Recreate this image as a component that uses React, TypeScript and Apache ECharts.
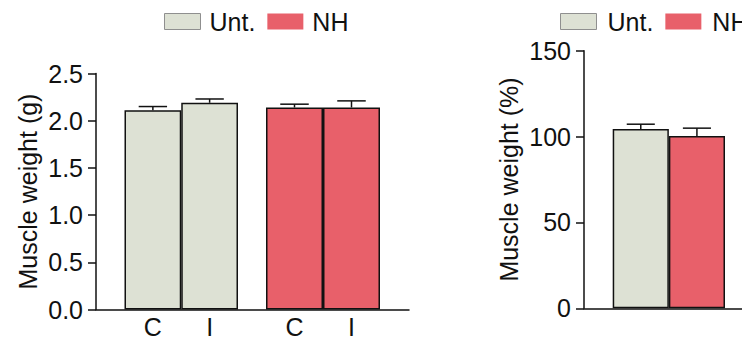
import React, { useEffect, useRef } from "react";
import * as echarts from "echarts";

// ---- data ----
const subCategories = ["C", "I"];
const weightUnt = [2.11, 2.19];
const weightUntErr = [0.04, 0.04];
const weightNH = [2.14, 2.14];
const weightNHErr = [0.035, 0.07];
const weightTickDecimals = 1;
const weightMax = 2.5;
const weightInterval = 0.5;

const percentCategory = [""];
const percentUnt = [104.4];
const percentUntErr = [2.8];
const percentNH = [100.3];
const percentNHErr = [4.6];
const percentMax = 150;
const percentInterval = 50;

const UNT_COLOR = "#dde1d4";
const NH_COLOR = "#e8606a";
const INK = "#111111";
const FONT = 'Arial, "Liberation Sans", sans-serif';

function errorData(values: number[], errs: number[]) {
  return values.map((v, i) => [i, v, errs[i]]);
}

function errorSeries(
  xi: number,
  values: number[],
  errs: number[],
  offsetFrac: number,
  capFrac: number
) {
  return {
    type: "custom",
    xAxisIndex: xi,
    yAxisIndex: xi,
    z: 5,
    silent: true,
    encode: { x: 0, y: 1 },
    data: errorData(values, errs),
    renderItem: (params: any, api: any) => {
      const x = api.value(0);
      const y = api.value(1);
      const e = api.value(2);
      const base = api.coord([x, y]);
      const top = api.coord([x, y + e]);
      const band = api.size([1, 0])[0];
      const cx = base[0] + offsetFrac * band;
      const half = (capFrac * band) / 2;
      const style = { stroke: INK, lineWidth: 1.5 };
      return {
        type: "group",
        children: [
          { type: "line", shape: { x1: cx, y1: base[1], x2: cx, y2: top[1] }, style },
          { type: "line", shape: { x1: cx - half, y1: top[1], x2: cx + half, y2: top[1] }, style },
        ],
      };
    },
  };
}

const axisLineStyle = { lineStyle: { color: INK, width: 1.5 } };

function frameX(grid: number) {
  return {
    type: "value",
    gridIndex: grid,
    min: 0,
    max: 1,
    axisLine: { show: true, onZero: false, ...axisLineStyle },
    axisTick: { show: false },
    axisLabel: { show: false },
    splitLine: { show: false },
  };
}

function frameY(grid: number, max: number, interval: number, name: string, nameGap: number, decimals: number) {
  return {
    type: "value",
    gridIndex: grid,
    min: 0,
    max,
    interval,
    name,
    nameLocation: "middle",
    nameGap,
    nameTextStyle: { fontSize: 25, color: INK, fontFamily: FONT },
    axisLine: { show: true, ...axisLineStyle },
    axisTick: { show: true, length: 8, lineStyle: { color: INK, width: 1.5 } },
    axisLabel: {
      fontSize: 25,
      color: INK,
      fontFamily: FONT,
      margin: 13,
      formatter: (v: number) => v.toFixed(decimals),
    },
    splitLine: { show: false },
  };
}

function hiddenY(grid: number, max: number) {
  return { type: "value", gridIndex: grid, min: 0, max, show: false };
}

function catX(grid: number, data: string[], showLabels: boolean) {
  return {
    type: "category",
    gridIndex: grid,
    data,
    axisLine: { show: false },
    axisTick: { show: false },
    axisLabel: { show: showLabels, fontSize: 25, color: INK, fontFamily: FONT, margin: 5 },
    splitLine: { show: false },
  };
}

const barStyle = (color: string) => ({ color, borderColor: INK, borderWidth: 1.5 });

function legend(left: number, textPad: number) {
  return {
    left,
    top: 9,
    width: 400,
    padding: 0,
    icon: "rect",
    itemWidth: 36,
    itemHeight: 16,
    itemGap: 12,
    textStyle: { fontSize: 25, color: INK, fontFamily: FONT, padding: [0, 0, 0, textPad] },
    data: [
      { name: "Unt.", itemStyle: { color: UNT_COLOR, borderColor: "#8f8f8f", borderWidth: 1 } },
      { name: "NH", itemStyle: { color: NH_COLOR, borderColor: NH_COLOR, borderWidth: 0 } },
    ],
  };
}

export default function App() {
  const ref = useRef<HTMLDivElement>(null);
  useEffect(() => {
    if (!ref.current) return;
    const chart = echarts.init(ref.current, undefined, { renderer: "svg" });
    const option: any = {
      animation: false,
      backgroundColor: "#ffffff",
      textStyle: { fontFamily: FONT },
      legend: [legend(164, 4), legend(560, 6)],
      grid: [
        { left: 96, right: 333, top: 73.5, bottom: 30.5 },
        { left: 124.5, width: 113.5, top: 73.5, bottom: 30.5 },
        { left: 266, width: 114, top: 73.5, bottom: 30.5 },
        { left: 584, right: -30, top: 50.7, bottom: 31.7 },
        { left: 612.7, width: 112.3, top: 50.7, bottom: 31.7 },
      ],
      xAxis: [
        frameX(0),
        catX(1, subCategories, true),
        catX(2, subCategories, true),
        frameX(3),
        catX(4, percentCategory, false),
      ],
      yAxis: [
        frameY(0, weightMax, weightInterval, "Muscle weight (g)", 56, weightTickDecimals),
        hiddenY(1, weightMax),
        hiddenY(2, weightMax),
        frameY(3, percentMax, percentInterval, "Muscle weight (%)", 63, 0),
        hiddenY(4, percentMax),
      ],
      series: [
        {
          name: "Unt.",
          type: "bar",
          xAxisIndex: 1,
          yAxisIndex: 1,
          data: weightUnt,
          barCategoryGap: "0%",
          itemStyle: barStyle(UNT_COLOR),
        },
        {
          name: "NH",
          type: "bar",
          xAxisIndex: 2,
          yAxisIndex: 2,
          data: weightNH,
          barCategoryGap: "0%",
          itemStyle: barStyle(NH_COLOR),
        },
        {
          name: "Unt.",
          type: "bar",
          xAxisIndex: 4,
          yAxisIndex: 4,
          data: percentUnt,
          barGap: "0%",
          barCategoryGap: "0%",
          itemStyle: barStyle(UNT_COLOR),
        },
        {
          name: "NH",
          type: "bar",
          xAxisIndex: 4,
          yAxisIndex: 4,
          data: percentNH,
          barGap: "0%",
          barCategoryGap: "0%",
          itemStyle: barStyle(NH_COLOR),
        },
        errorSeries(1, weightUnt, weightUntErr, 0, 0.5),
        errorSeries(2, weightNH, weightNHErr, 0, 0.5),
        errorSeries(4, percentUnt, percentUntErr, -0.25, 0.25),
        errorSeries(4, percentNH, percentNHErr, 0.25, 0.25),
      ],
    };
    chart.setOption(option);
    return () => chart.dispose();
  }, []);
  return (
    <div
      ref={ref}
      style={{ position: "absolute", left: 0, top: 0, width: 742, height: 340, background: "#fff" }}
    />
  );
}
